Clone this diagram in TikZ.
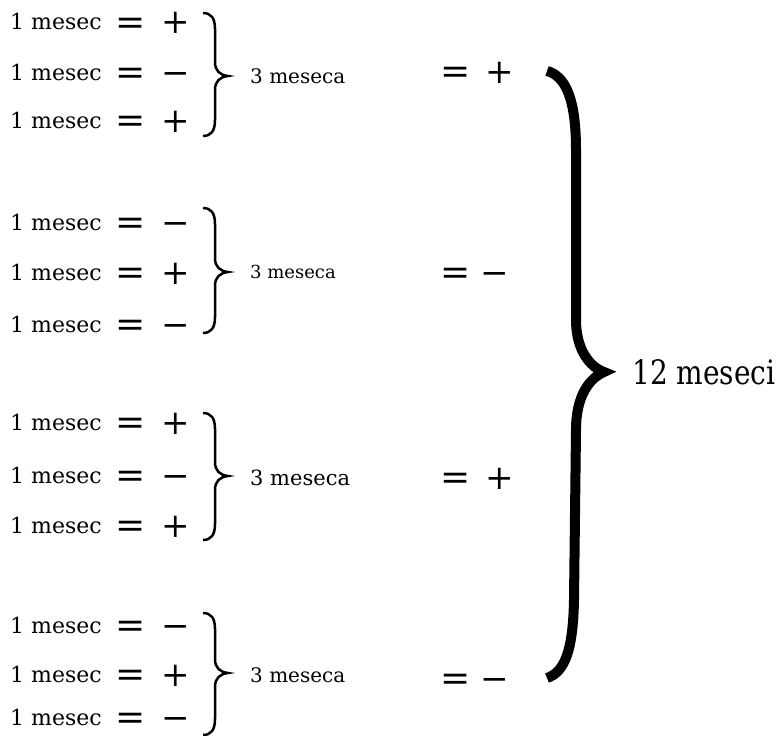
\documentclass[tikz,border=0pt]{standalone}
\usepackage{fontspec}
\setmainfont{DejaVu Serif}
\newcommand\mybrace[3]{%
  \draw[sbr] (203,#1) .. controls (211,#1) and (215,#1+5) .. (215,#1+16)
    -- (215,#2-14) .. controls (215,#2-5) and (220,#2-1) .. (228,#2)
    .. controls (220,#2+1) and (215,#2+5) .. (215,#2+14)
    -- (215,#3-16) .. controls (215,#3-5) and (211,#3) .. (203,#3);}
\newcommand\pl{+}
\newcommand\mi{−}
\begin{document}
\begin{tikzpicture}[x=1pt,y=-1pt,
  lbl/.style={anchor=base west, inner sep=0pt, font=\fontsize{22}{26}\selectfont},
  mth/.style={anchor=base, inner sep=0pt, font=\fontsize{34}{38}\selectfont},
  eqs/.style={anchor=base, inner sep=0pt, font=\fontsize{36}{40}\selectfont},
  sub/.style={anchor=base west, inner sep=0pt},
  sbr/.style={line width=2.5pt},
  bbr/.style={line width=10pt, line join=miter}]
\useasboundingbox (0,0) rectangle (777,736);
% left column (baseline b; sign axis at b-7)
\foreach \n/\b/\s in {11/30/\pl,12/80/\mi,13/128/\pl,21/230/\mi,22/280/\pl,23/332/\mi,31/430/\pl,32/483/\mi,33/533/\pl,41/633/\mi,42/682/\pl,43/725/\mi}{
  \node[lbl] (m\n) at (10,\b) {1 mesec};
  \node[eqs] (q\n) at (130.5,\b+4.5) {=};
  \node[mth] (p\n) at (176,\b+4) {\s};
}
% small braces
\mybrace{13}{76}{136}
\mybrace{208}{272}{333}
\mybrace{413}{476}{540}
\mybrace{613}{673}{735}
% 3 meseca
\node[sub, font=\fontsize{20}{24}\selectfont] (t1) at (250,83) {3 meseca};
\node[sub, font=\fontsize{18}{22}\selectfont] (t2) at (250,278) {3 meseca};
\node[sub, font=\fontsize{21}{25}\selectfont] (t3) at (250,485) {3 meseca};
\node[sub, font=\fontsize{20}{24}\selectfont] (t4) at (250,682) {3 meseca};
% right signs (axis y)
\node[eqs] (r1) at (456,72+11.5) {=};
\node[mth] (s1) at (500,72+11) {+};
\node[eqs] (r2) at (456,273+11.5) {=};
\node[mth] (s2) at (495,273+11) {−};
\node[eqs] (r3) at (456,478+11.5) {=};
\node[mth] (s3) at (500,478+11) {+};
\node[eqs] (r4) at (456,679+11.5) {=};
\node[mth] (s4) at (495,679+11) {−};
% big brace
\coordinate (btop) at (547,71);
\coordinate (btip) at (604,372);
\coordinate (bbot) at (547,678);
\draw[bbr] (btop) .. controls (566,76) and (576,100) .. (576,150)
  -- (576,320) .. controls (576,350) and (590,367) .. (btip)
  .. controls (590,378) and (576,395) .. (576,430)
  -- (574,600) .. controls (573,650) and (565,672) .. (bbot);
\node[sub, font=\fontsize{28}{32}\selectfont] (tot) at (632,384) {\scalebox{1}[1.2]{12 meseci}};
\end{tikzpicture}
\end{document}
